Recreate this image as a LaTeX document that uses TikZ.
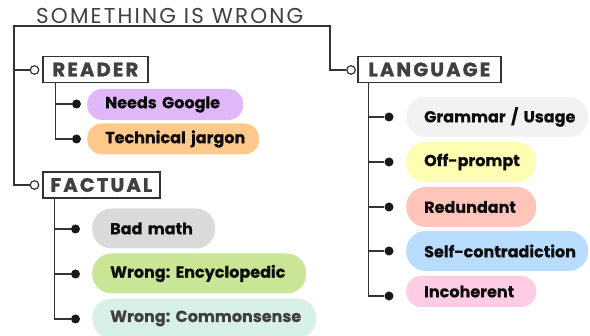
\documentclass[tikz,border=0pt]{standalone}
\usepackage{fontspec}
\setmainfont{Poppins}[BoldFeatures={FakeBold=0.6}]
\newfontfamily\titlefont[LetterSpace=10]{Poppins}
\newfontfamily\boxfont[LetterSpace=11,FakeBold=1.2]{Poppins Bold}
\frenchspacing
\definecolor{linec}{HTML}{333333}
\definecolor{txtc}{HTML}{404040}
\definecolor{cpurple}{HTML}{E0B8FA}
\definecolor{corange}{HTML}{FFC98C}
\definecolor{cgrey}{HTML}{DADADA}
\definecolor{cgreen}{HTML}{C8E696}
\definecolor{cmint}{HTML}{D8F1E6}
\definecolor{clight}{HTML}{F2F2F2}
\definecolor{cyellow}{HTML}{FFFDB2}
\definecolor{csalmon}{HTML}{FFC4BA}
\definecolor{cblue}{HTML}{B9DDFF}
\definecolor{cpink}{HTML}{FFCCE6}
\begin{document}
\begin{tikzpicture}[x=1pt,y=-1pt,
  conn/.style={draw=linec, line width=1.3pt},
  catbox/.style={draw=linec, line width=1.8pt, fill=white, text=txtc, anchor=west,
    inner sep=0pt, minimum height=26pt, font=\boxfont\fontsize{19.5}{20}\selectfont},
  opencirc/.style={circle, draw=linec, line width=1.2pt, fill=white, inner sep=0pt, minimum size=8.5pt},
  bullet/.style={circle, fill=black!90, inner sep=0pt, minimum size=9pt},
  pill/.style={anchor=west, inner xsep=18pt, inner ysep=0pt, align=left,
    font=\bfseries\fontsize{16}{18}\selectfont, text=black!95},
  pillS/.style={pill, minimum height=31pt, rounded corners=15pt},
  pillL/.style={pill, minimum height=40pt, rounded corners=19.5pt},
]
\useasboundingbox (0,0) rectangle (590,336);

% title
\node[anchor=base west, inner sep=0pt, text=txtc, font=\titlefont\fontsize{21.5}{22}\selectfont] (title) at (36,24) {SOMETHING IS WRONG};
\coordinate (tl) at (14,26);
\coordinate (tr) at (330,26);

% categories
\node[catbox, minimum width=105pt] (reader) at (42,69.5) {READER};
\node[catbox, minimum width=117pt] (factual) at (42,185) {FACTUAL};
\node[catbox, minimum width=143pt] (language) at (357,69.5) {LANGUAGE};
\node[opencirc] (rc) at (34.5,70) {};
\node[opencirc] (fc) at (34.5,185) {};
\node[opencirc] (lc) at (351,70) {};

\draw[conn] (tr) -- (tl) |- (fc);
\draw[conn] (tl |- rc) -- (rc);
\draw[conn] (tl) -- (tr) |- (lc);

% READER items
\node[bullet] (r1) at (76.5,104) {};
\node[bullet] (r2) at (76.5,139) {};
\node[pillS, fill=cpurple, text width=120pt] (pr1) at (87,104.5) {\mbox{Needs Google}};
\node[pillS, fill=corange, text width=136pt] (pr2) at (87,139) {\mbox{Technical jargon}};
\draw[conn] ([xshift=13.5pt]reader.south west) |- (r2);
\draw[conn] ([xshift=13.5pt]reader.south west) |- (r1);

% FACTUAL items
\node[bullet] (f1) at (75.5,229) {};
\node[bullet] (f2) at (75.5,274) {};
\node[bullet] (f3) at (75.5,319) {};
\node[pillL, fill=cgrey, text width=87pt] (pf1) at (92,228.5) {\mbox{Bad math}};
\node[pillL, fill=cgreen, text width=178pt] (pf2) at (92,273.5) {\mbox{Wrong: Encyclopedic}};
\node[pillL, fill=cmint, text width=188pt, text=txtc] (pf3) at (92,318.5) {\mbox{Wrong: Commonsense}};
\draw[conn] ([xshift=12.5pt]factual.south west) |- (f3);
\draw[conn] ([xshift=12.5pt]factual.south west) |- (f2);
\draw[conn] ([xshift=12.5pt]factual.south west) |- (f1);

% LANGUAGE items
\node[bullet] (l1) at (389,117) {};
\node[bullet] (l2) at (389,162) {};
\node[bullet] (l3) at (389,207) {};
\node[bullet] (l4) at (389,251) {};
\node[bullet] (l5) at (389,296) {};
\node[pillL, fill=clight, text width=146pt] (pl1) at (406,117) {\mbox{Grammar / Usage}};
\node[pillL, fill=cyellow, text width=94pt] (pl2) at (406,162) {\mbox{Off-prompt}};
\node[pillL, fill=csalmon, text width=94pt] (pl3) at (406,207) {\mbox{Redundant}};
\node[pillL, fill=cblue, text width=146pt] (pl4) at (406,251) {\mbox{Self-contradiction}};
\node[pillS, fill=cpink, text width=94pt] (pl5) at (406,291.5) {\mbox{Incoherent}};
\draw[conn] ([xshift=11.5pt]language.south west) |- (l5);
\foreach \n in {l1,l2,l3,l4}{\draw[conn] ([xshift=11.5pt]language.south west) |- (\n);}
\end{tikzpicture}
\end{document}
